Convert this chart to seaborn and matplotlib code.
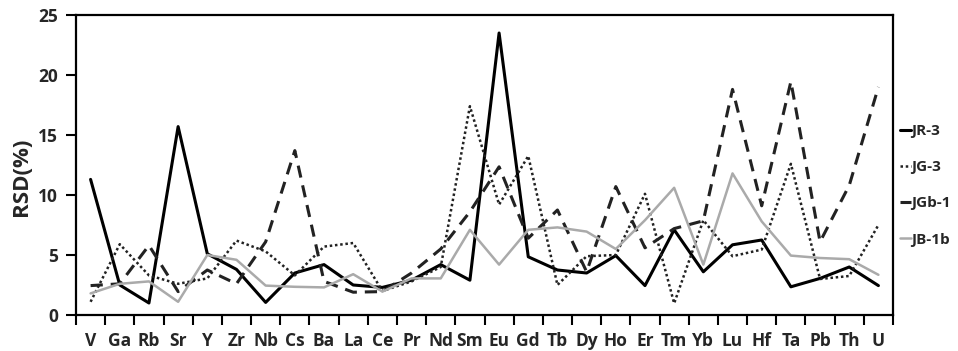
import numpy as np
import pandas as pd
import matplotlib
matplotlib.use("Agg")
import matplotlib.pyplot as plt
from matplotlib.ticker import FixedLocator, NullFormatter
from matplotlib.lines import Line2D
import seaborn as sns

elements = ["V", "Ga", "Rb", "Sr", "Y", "Zr", "Nb", "Cs", "Ba", "La", "Ce", "Pr", "Nd", "Sm",
            "Eu", "Gd", "Tb", "Dy", "Ho", "Er", "Tm", "Yb", "Lu", "Hf", "Ta", "Pb", "Th", "U"]

jr3 = [11.3, 2.5, 1.0, 15.7, 5.1, 3.8, 1.05, 3.5, 4.2, 2.5, 2.3, 2.9, 4.2, 2.9,
       23.5, 4.85, 3.75, 3.5, 4.95, 2.45, 7.1, 3.6, 5.85, 6.25, 2.35, 3.05, 4.0, 2.45]
jg3 = [1.1, 5.9, 3.3, 2.6, 3.05, 6.2, 5.3, 3.3, 5.7, 6.0, 2.0, 2.8, 4.0, 17.4,
       9.2, 13.25, 2.5, 4.9, 5.0, 10.1, 0.97, 7.9, 4.9, 5.45, 12.6, 3.0, 3.25, 7.5]
jgb1 = [2.45, 2.6, 5.8, 1.95, 3.75, 2.6, 6.1, 13.7, 2.8, 1.9, 1.95, 3.5, 5.5, 8.6,
        12.35, 6.4, 8.75, 3.6, 10.7, 5.6, 7.2, 7.85, 18.8, 9.1, 19.45, 6.1, 10.8, 19.0]
jb1b = [1.8, 2.6, 2.8, 1.1, 5.0, 4.6, 2.45, 2.35, 2.3, 3.4, 1.95, 3.05, 3.05, 7.1,
        4.2, 7.1, 7.3, 6.95, 5.5, 7.9, 10.6, 4.2, 11.8, 7.8, 4.95, 4.75, 4.65, 3.35]

series_names = ["JR-3", "JG-3", "JGb-1", "JB-1b"]
series_values = [jr3, jg3, jgb1, jb1b]

styles = {
    "JR-3": dict(color="#000000", lw=2.2, ls="-"),
    "JG-3": dict(color="#222222", lw=1.8, ls=(0, (1, 1.1))),
    "JGb-1": dict(color="#222222", lw=2.2, ls=(0, (4, 2.6))),
    "JB-1b": dict(color="#aaaaaa", lw=1.8, ls="-"),
}

sns.set_style("white")
plt.rcParams["font.family"] = ["Open Sans", "DejaVu Sans"]
plt.rcParams["font.weight"] = "bold"

fig = plt.figure(figsize=(9.58, 3.51), dpi=100)
ax = fig.add_axes([76 / 958, 1 - 315 / 351, (893 - 76) / 958, 300 / 351])

pos = np.arange(len(elements))
for name, vals in zip(series_names, series_values):
    st = styles[name]
    df = pd.DataFrame({"pos": pos, "rsd": vals})
    sns.lineplot(data=df, x="pos", y="rsd", ax=ax, color=st["color"], linewidth=st["lw"],
                 linestyle=st["ls"], sort=False, estimator=None)

ax.set_xlim(-0.5, len(elements) - 0.5)
ax.set_ylim(0, 25)
ax.set_yticks([0, 5, 10, 15, 20, 25])
ax.set_xticks(pos)
ax.set_xticklabels(elements)
ax.xaxis.set_minor_locator(FixedLocator(np.arange(-0.5, len(elements), 1.0)))
ax.xaxis.set_minor_formatter(NullFormatter())
ax.tick_params(axis="x", which="major", length=0, pad=12, labelsize=12.5)
ax.tick_params(axis="x", which="minor", length=7, width=1.5, direction="out", color="black", bottom=True)
ax.tick_params(axis="y", which="major", length=7, width=1.5, direction="out", color="black",
               left=True, labelsize=12.5, pad=6)
for lab in ax.get_xticklabels() + ax.get_yticklabels():
    lab.set_fontweight("bold")

for sp in ax.spines.values():
    sp.set_visible(True)
    sp.set_color("black")
    sp.set_linewidth(1.6)

ax.set_xlabel("")
ax.set_ylabel("RSD(%)", fontsize=16, fontweight="bold", labelpad=4)
ax.yaxis.set_label_coords(-0.054, 0.46)

handles = [Line2D([0], [0], color=styles[n]["color"], lw=styles[n]["lw"], ls=styles[n]["ls"])
           for n in series_names]
leg = ax.legend(handles, series_names, loc="center left", bbox_to_anchor=(1.0, 0.432),
                frameon=False, handlelength=0.7, handletextpad=0.05, labelspacing=1.45,
                borderpad=0.0, borderaxespad=0.45,
                prop={"weight": "bold", "size": 11})

fig.savefig("out.png", dpi=100)
